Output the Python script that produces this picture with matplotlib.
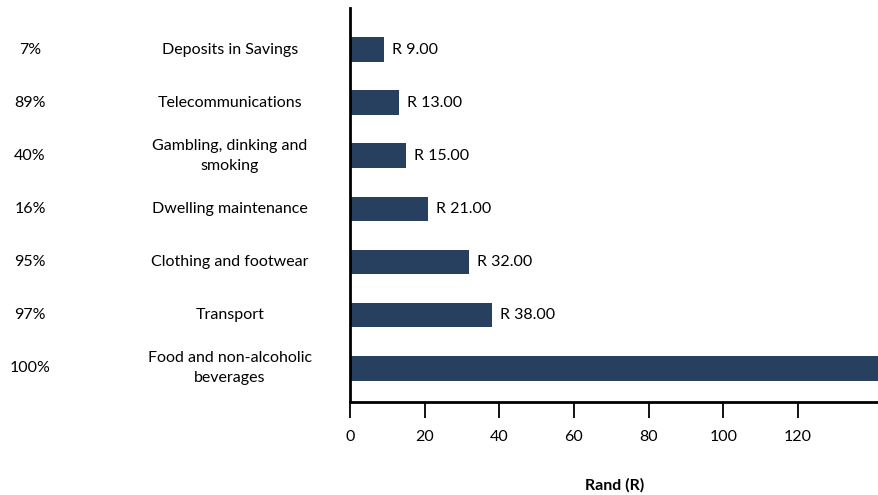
import matplotlib
matplotlib.use("Agg")
import matplotlib.pyplot as plt
import matplotlib.transforms as mtransforms

plt.rcParams['font.family'] = ['Lato', 'DejaVu Sans']

categories = ["Deposits in Savings", "Telecommunications", "Gambling, dinking and\nsmoking",
              "Dwelling maintenance", "Clothing and footwear", "Transport",
              "Food and non-alcoholic\nbeverages"]
values = [9, 13, 15, 21, 32, 38, 180]
value_labels = ["R 9.00", "R 13.00", "R 15.00", "R 21.00", "R 32.00", "R 38.00", ""]
percentages = ["7%", "89%", "40%", "16%", "95%", "97%", "100%"]
xticks = [0, 20, 40, 60, 80, 100, 120]

bar_color = "#27405f"
fs = 11.5

fig = plt.figure(figsize=(8.79, 4.95), dpi=100)
ax = fig.add_axes([350/879, 93/495, 529/879, 394/495])

n = len(categories)
ypos = [n - 1 - i for i in range(n)]
ax.barh(ypos, values, height=0.47, color=bar_color)
ax.set_xlim(0, 141.7)
ax.set_ylim(-0.64, n - 1 + 0.79)

trans_off = mtransforms.offset_copy(ax.transData, fig=fig, x=8, y=0, units='dots')
for y, v, lab in zip(ypos, values, value_labels):
    if lab:
        ax.text(v, y, lab, transform=trans_off, va='center', ha='left', fontsize=fs, color='black')

ytr = ax.get_yaxis_transform()
for y, cat, pct in zip(ypos, categories, percentages):
    ax.text(-0.2268, y, cat, transform=ytr, ha='center', va='center', fontsize=fs,
            clip_on=False, linespacing=1.55)
    ax.text(-0.605, y, pct, transform=ytr, ha='center', va='center', fontsize=fs, clip_on=False)

ax.set_yticks([])
ax.set_xticks(xticks)
ax.set_xticklabels([str(t) for t in xticks], fontsize=fs)
ax.tick_params(axis='x', length=11.5, width=1.3, pad=9, direction='out', colors='black')

for s in ['top', 'right']:
    ax.spines[s].set_visible(False)
ax.spines['left'].set_linewidth(2)
ax.spines['bottom'].set_linewidth(2)

ax.set_xlabel("Rand (R)", fontsize=fs, fontweight='bold', labelpad=24)

fig.savefig("out.png", dpi=100)
